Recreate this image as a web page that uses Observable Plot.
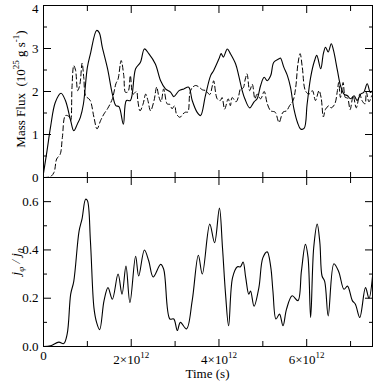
<!DOCTYPE html>
<html><head><meta charset="utf-8">
<script src="https://cdn.jsdelivr.net/npm/d3@7"></script>
<script src="https://cdn.jsdelivr.net/npm/@observablehq/plot@0.6"></script>
<style>
body{margin:0;background:#fff}
#chart{position:relative;width:374px;height:383px;font-family:"Liberation Serif",serif}
#chart svg{position:absolute;left:0;overflow:visible}
#chart svg text{font-family:"Liberation Serif","Times New Roman",serif !important;fill:#000}
</style></head><body><div id="chart"></div>
<script>
// time in units of 1e12 s
const solidFlux = [[0,0.1],[0.08,0.62],[0.16,1.17],[0.27,1.75],[0.40,1.96],[0.50,1.79],[0.62,1.32],[0.69,1.09],[0.77,1.24],[0.84,1.40],[0.91,1.71],[1.0,2.56],[1.07,2.88],[1.21,3.42],[1.27,3.37],[1.34,3.03],[1.46,2.53],[1.57,1.94],[1.65,1.67],[1.72,1.65],[1.82,1.24],[1.89,1.79],[1.98,1.79],[2.10,2.53],[2.21,2.68],[2.30,2.99],[2.40,2.88],[2.55,2.64],[2.67,2.25],[2.78,2.06],[2.90,1.98],[2.97,1.88],[3.09,2.02],[3.20,2.06],[3.31,2.10],[3.39,1.79],[3.50,1.52],[3.58,1.44],[3.69,1.90],[3.81,2.37],[3.88,2.49],[4.00,2.76],[4.05,2.88],[4.10,2.80],[4.19,2.99],[4.26,2.88],[4.38,2.64],[4.45,2.37],[4.53,2.02],[4.59,1.83],[4.70,1.62],[4.80,1.76],[4.87,1.83],[4.95,2.14],[5.03,2.33],[5.10,2.25],[5.18,2.37],[5.25,2.68],[5.37,2.76],[5.40,2.78],[5.48,2.56],[5.56,2.37],[5.63,2.10],[5.71,1.59],[5.79,1.28],[5.86,1.13],[5.94,1.14],[6.01,1.71],[6.09,2.33],[6.18,2.72],[6.23,2.84],[6.32,2.53],[6.38,2.88],[6.43,3.03],[6.49,2.92],[6.56,3.11],[6.61,2.96],[6.70,2.49],[6.77,2.14],[6.85,1.94],[6.93,1.90],[7.00,1.83],[7.08,1.90],[7.15,1.79],[7.23,1.94],[7.30,1.98],[7.38,2.18],[7.45,1.98],[7.50,2.02]];

const dashedFlux = [[0,0.0],[0.16,0.02],[0.24,0.12],[0.30,0.43],[0.38,0.54],[0.43,0.93],[0.50,1.44],[0.58,1.42],[0.62,1.32],[0.65,2.10],[0.69,2.60],[0.73,2.50],[0.78,2.02],[0.83,2.17],[0.88,2.66],[0.92,2.30],[0.96,1.90],[1.06,1.80],[1.15,1.40],[1.22,1.13],[1.30,1.32],[1.38,1.48],[1.46,1.60],[1.57,1.83],[1.65,2.18],[1.70,2.29],[1.77,2.72],[1.83,2.37],[1.87,1.98],[1.93,2.0],[1.98,2.37],[2.04,1.94],[2.12,2.0],[2.15,1.79],[2.20,1.55],[2.27,1.71],[2.33,1.94],[2.38,1.79],[2.44,1.55],[2.52,1.79],[2.58,2.10],[2.63,1.88],[2.68,1.76],[2.74,2.06],[2.82,1.71],[2.88,1.70],[2.93,1.60],[2.99,1.67],[3.03,1.48],[3.11,1.40],[3.18,1.48],[3.24,1.52],[3.29,1.52],[3.34,1.98],[3.40,2.10],[3.47,2.14],[3.55,2.10],[3.62,2.04],[3.70,2.02],[3.79,1.93],[3.85,2.14],[3.88,2.25],[3.96,1.83],[4.03,1.79],[4.07,1.86],[4.13,1.59],[4.21,1.83],[4.26,1.67],[4.30,1.86],[4.39,1.76],[4.45,1.90],[4.49,2.06],[4.55,2.08],[4.60,2.29],[4.64,2.41],[4.70,2.02],[4.76,2.17],[4.82,1.83],[4.87,1.94],[4.95,1.83],[5.03,2.0],[5.10,1.72],[5.18,1.55],[5.28,1.52],[5.37,1.28],[5.46,1.52],[5.54,1.55],[5.61,1.67],[5.69,1.79],[5.75,2.10],[5.80,2.64],[5.85,2.88],[5.90,2.56],[5.97,2.02],[6.05,1.94],[6.13,2.02],[6.20,1.79],[6.28,2.02],[6.33,1.85],[6.38,1.41],[6.43,1.59],[6.51,1.67],[6.56,1.62],[6.64,1.71],[6.70,2.02],[6.73,2.21],[6.77,1.86],[6.83,2.21],[6.88,1.86],[6.93,1.85],[6.99,1.58],[7.06,1.90],[7.13,1.62],[7.21,1.94],[7.26,1.79],[7.33,1.71],[7.36,1.98],[7.42,1.76],[7.48,1.90]];

const currentRatio = [[0,0],[0.16,0.003],[0.35,0.018],[0.46,0.012],[0.54,0.052],[0.62,0.217],[0.69,0.27],[0.81,0.477],[0.88,0.53],[0.96,0.61],[1.0,0.605],[1.07,0.436],[1.15,0.16],[1.21,0.10],[1.28,0.07],[1.38,0.19],[1.47,0.244],[1.57,0.196],[1.70,0.30],[1.79,0.217],[1.88,0.333],[1.97,0.182],[2.10,0.374],[2.17,0.292],[2.30,0.40],[2.40,0.354],[2.50,0.288],[2.67,0.34],[2.74,0.32],[2.88,0.114],[2.97,0.114],[3.05,0.066],[3.12,0.10],[3.26,0.073],[3.39,0.19],[3.53,0.378],[3.62,0.30],[3.79,0.507],[3.90,0.43],[4.01,0.573],[4.08,0.41],[4.15,0.217],[4.22,0.086],[4.31,0.285],[4.42,0.33],[4.49,0.33],[4.55,0.35],[4.61,0.285],[4.68,0.217],[4.72,0.23],[4.80,0.167],[4.91,0.244],[5.00,0.367],[5.10,0.392],[5.18,0.33],[5.23,0.23],[5.30,0.114],[5.38,0.134],[5.46,0.086],[5.54,0.155],[5.67,0.21],[5.80,0.19],[5.88,0.313],[5.97,0.423],[6.03,0.37],[6.09,0.12],[6.16,0.41],[6.24,0.507],[6.30,0.43],[6.35,0.292],[6.41,0.27],[6.49,0.127],[6.62,0.343],[6.73,0.31],[6.85,0.237],[6.93,0.25],[7.04,0.19],[7.11,0.175],[7.21,0.12],[7.34,0.244],[7.42,0.20],[7.50,0.29]];

const fluxTicks = [0,1,2,3,4];
const fluxMinor = [0.5,1.5,2.5,3.5];
const jTicks = [0,0.2,0.4,0.6];
const jMinor = [0.1,0.3,0.5];
const timeTicks = [0,2,4,6];
const timeMinor = [1,3,5,7];
const timeTickLabels = ["0","2×10^12","4×10^12","6×10^12"];

const W = 374, ML = 43, MR = 2;
const xDomain = [0, 7.5];
const blank = () => "";
const plotStyle = "font-family:'Liberation Serif',serif;font-size:13px;color:#000;overflow:visible;background:none";

function tickMarks(yMajor, yMinor) {
  return [
    Plot.axisY(yMajor, {anchor:"left", tickSize:-8, tickFormat:blank, label:null}),
    Plot.axisY(yMinor, {anchor:"left", tickSize:-4, tickFormat:blank, label:null}),
    Plot.axisY(yMajor, {anchor:"right", tickSize:-8, tickFormat:blank, label:null}),
    Plot.axisY(yMinor, {anchor:"right", tickSize:-4, tickFormat:blank, label:null}),
    Plot.axisX(timeTicks, {anchor:"top", tickSize:-7, tickFormat:blank, label:null}),
    Plot.axisX(timeMinor, {anchor:"top", tickSize:-5, tickFormat:blank, label:null}),
    Plot.axisX(timeTicks, {anchor:"bottom", tickSize:-7, tickFormat:blank, label:null}),
    Plot.axisX(timeMinor, {anchor:"bottom", tickSize:-5, tickFormat:blank, label:null}),
    Plot.axisY(yMajor, {anchor:"left", tickSize:0, tickPadding:5, fontSize:13, label:null}),
    Plot.frame({stroke:"#000", strokeWidth:1})
  ];
}

const topPlot = Plot.plot({
  width: W, height: 180, marginLeft: ML, marginRight: MR, marginTop: 5, marginBottom: 3,
  style: plotStyle,
  x: {domain: xDomain},
  y: {domain: [0, 4]},
  marks: [
    ...tickMarks(fluxTicks, fluxMinor),
    Plot.line(dashedFlux, {x: d => d[0], y: d => d[1], curve: "catmull-rom", stroke: "#000", strokeWidth: 1, strokeDasharray: "5,3"}),
    Plot.line(solidFlux, {x: d => d[0], y: d => d[1], curve: "catmull-rom", stroke: "#000", strokeWidth: 1.1})
  ]
});
topPlot.style.top = "0px";

const bottomPlot = Plot.plot({
  width: W, height: 207, marginLeft: ML, marginRight: MR, marginTop: 1, marginBottom: 37,
  style: plotStyle,
  x: {domain: xDomain},
  y: {domain: [0, 0.7]},
  marks: [
    ...tickMarks(jTicks, jMinor),
    Plot.axisX(timeTicks, {anchor:"bottom", tickSize:0, tickPadding:4, fontSize:13, label:null,
      tickFormat: d => timeTickLabels[timeTicks.indexOf(d)]}),
    Plot.line(currentRatio, {x: d => d[0], y: d => d[1], curve: "catmull-rom", stroke: "#000", strokeWidth: 1.1})
  ]
});
bottomPlot.style.top = "176px";

const chart = document.getElementById("chart");
chart.appendChild(topPlot);
chart.appendChild(bottomPlot);

// superscripts in x tick labels
d3.select(bottomPlot).selectAll("text").each(function() {
  const t = this.textContent;
  if (t.includes("^")) {
    const [base, sup] = t.split("^");
    const s = d3.select(this);
    s.text(null);
    s.append("tspan").attr("dy", "4").text(base);
    s.append("tspan").attr("dy", "-6").attr("font-size", "9").text(sup);
  }
});
// the top label "4" sits a little below its tick, as in the reference
d3.select(topPlot).selectAll("text").each(function() {
  if (this.textContent === "4") {
    const s = d3.select(this);
    s.attr("transform", (s.attr("transform") || "") + " translate(0,3)");
  }
});

// axis titles
const tsvg = d3.select(topPlot);
const tl = tsvg.append("text").attr("transform", "translate(25,89) rotate(-90)")
  .attr("text-anchor", "middle").attr("font-size", 13).attr("fill", "#000");
tl.append("tspan").text("Mass Flux  (10");
tl.append("tspan").attr("dy", -6).attr("font-size", 9).text("25");
tl.append("tspan").attr("dy", 6).text(" g s");
tl.append("tspan").attr("dy", -6).attr("font-size", 9).text("-1");
tl.append("tspan").attr("dy", 6).text(")");

const bsvg = d3.select(bottomPlot);
const bl = bsvg.append("text").attr("transform", "translate(20,86) rotate(-90)")
  .attr("text-anchor", "middle").attr("font-size", 13).attr("fill", "#000").attr("font-style", "italic");
bl.append("tspan").text("j");
bl.append("tspan").attr("dy", 4).attr("font-size", 9).text("φ");
bl.append("tspan").attr("dy", -4).text(" / j");
bl.append("tspan").attr("dy", 4).attr("font-size", 9).text("0");

bsvg.append("text").attr("x", 207.5).attr("y", 202).attr("text-anchor", "middle")
  .attr("font-size", 13).attr("fill", "#000").text("Time (s)");
</script></body></html>
